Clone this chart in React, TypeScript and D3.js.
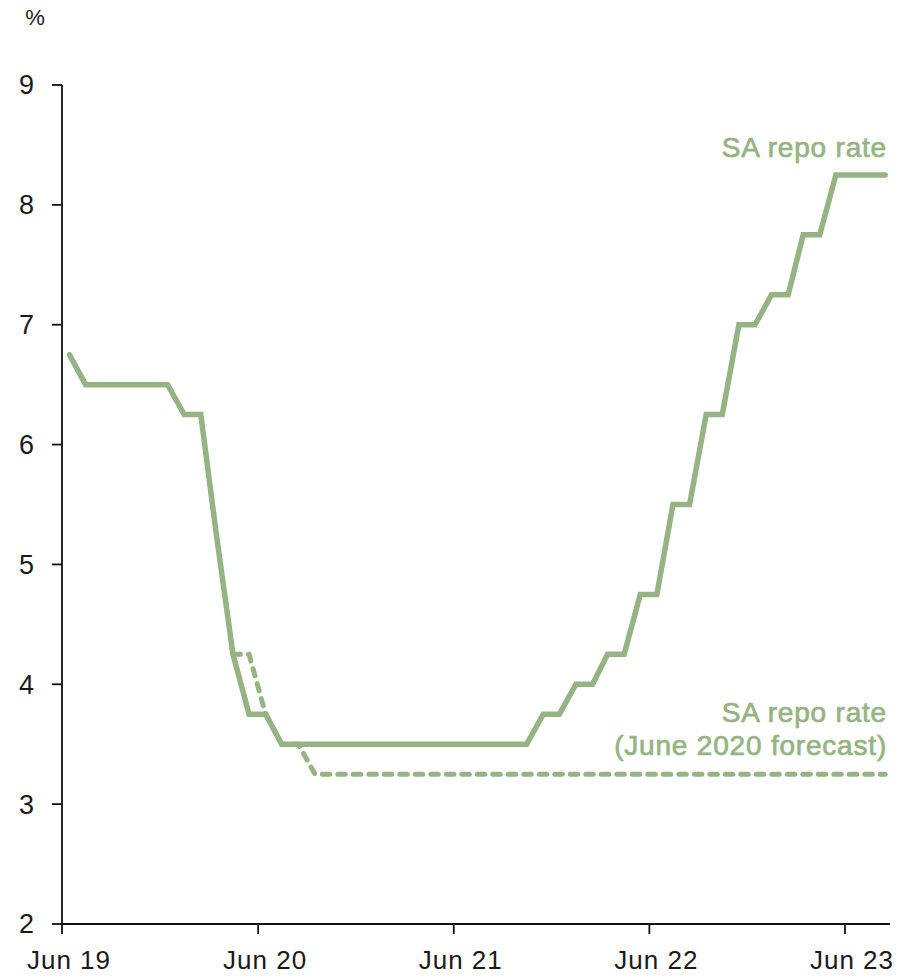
import React from "react";
import * as d3 from "d3";

// Monthly observations, June 2019 – August 2023
const startMonth = "2019-06";
const repoRate = [
  6.75, 6.5, 6.5, 6.5, 6.5, 6.5, 6.5, 6.25, 6.25, 5.25, 4.25, 3.75, 3.75,
  3.5, 3.5, 3.5, 3.5, 3.5, 3.5, 3.5, 3.5, 3.5, 3.5, 3.5, 3.5, 3.5, 3.5, 3.5, 3.5,
  3.75, 3.75, 4.0, 4.0, 4.25, 4.25, 4.75, 4.75, 5.5, 5.5, 6.25, 6.25, 7.0, 7.0,
  7.25, 7.25, 7.75, 7.75, 8.25, 8.25, 8.25, 8.25,
];

// June 2020 forecast path, from April 2020 onwards
const forecastStart = "2020-04";
const forecastRate = [
  4.25, 4.25, 3.75, 3.5, 3.5,
  3.25, 3.25, 3.25, 3.25, 3.25, 3.25, 3.25, 3.25, 3.25, 3.25, 3.25, 3.25,
  3.25, 3.25, 3.25, 3.25, 3.25, 3.25, 3.25, 3.25, 3.25, 3.25, 3.25, 3.25,
  3.25, 3.25, 3.25, 3.25, 3.25, 3.25, 3.25, 3.25, 3.25, 3.25, 3.25, 3.25,
];

const xTickDates = ["2019-06-01", "2020-06-01", "2021-06-01", "2022-06-01", "2023-06-01"];
const xTickLabels = ["Jun 19", "Jun 20", "Jun 21", "Jun 22", "Jun 23"];
const yTicks = [2, 3, 4, 5, 6, 7, 8, 9];

const GREEN = "#95b383";
const INK = "#1a1a1a";
const FONT = "'Liberation Sans', Arial, Helvetica, sans-serif";

const parseMonth = d3.timeParse("%Y-%m");
const parseDay = d3.timeParse("%Y-%m-%d");

function monthly(start: string, values: number[]) {
  const first = parseMonth(start) as Date;
  return values.map((v, i) => ({
    date: d3.timeDay.offset(d3.timeMonth.offset(first, i), 14),
    value: v,
  }));
}

export default function App() {
  const width = 919;
  const height = 978;
  const left = 62;
  const right = 890;
  const top = 85;
  const bottom = 924;

  const x = d3
    .scaleTime()
    .domain([new Date(2019, 5, 1), new Date(2023, 7, 24)])
    .range([left, right]);
  const y = d3.scaleLinear().domain([2, 9]).range([bottom, top]);

  const line = d3
    .line<{ date: Date; value: number }>()
    .x((d) => x(d.date))
    .y((d) => y(d.value));

  const actual = monthly(startMonth, repoRate);
  const forecast = monthly(forecastStart, forecastRate);

  const labelStyle = {
    fontSize: 28,
    letterSpacing: 0.8,
    fill: GREEN,
    stroke: GREEN,
    strokeWidth: 0.7,
  };

  return (
    <svg
      width={width}
      height={height}
      style={{ position: "absolute", left: 0, top: 0, background: "#fff" }}
      fontFamily={FONT}
    >
      <text x={35} y={25} fontSize={22} textAnchor="middle" fill={INK}>%</text>

      {/* y axis */}
      <line x1={left} x2={left} y1={top} y2={bottom} stroke="#111" strokeWidth={1.8} />
      {yTicks.map((t) => (
        <g key={t}>
          <line x1={left - 10} x2={left} y1={y(t)} y2={y(t)} stroke="#111" strokeWidth={1.8} />
          <text x={34} y={y(t)} dy="0.35em" fontSize={27} textAnchor="end" fill={INK}>
            {t}
          </text>
        </g>
      ))}

      {/* x axis */}
      <line x1={left} x2={right} y1={bottom} y2={bottom} stroke="#111" strokeWidth={1.8} />
      {xTickDates.map((d, i) => {
        const px = x(parseDay(d) as Date);
        return (
          <g key={d}>
            <line x1={px} x2={px} y1={bottom} y2={bottom + 10} stroke="#111" strokeWidth={1.8} />
            <text
              x={px + 7}
              y={969}
              fontSize={26}
              textAnchor="middle"
              letterSpacing={1}
              fill={INK}
            >
              {xTickLabels[i]}
            </text>
          </g>
        );
      })}

      {/* series */}
      <path
        d={line(forecast) || ""}
        fill="none"
        stroke={GREEN}
        strokeWidth={5}
        strokeDasharray="7.5 8"
        strokeLinecap="round"
      />
      <path
        d={line(actual) || ""}
        fill="none"
        stroke={GREEN}
        strokeWidth={5.5}
        strokeLinecap="round"
      />

      <text x={887} y={157} textAnchor="end" {...labelStyle}>
        SA repo rate
      </text>
      <text x={887} y={722} textAnchor="end" {...labelStyle}>
        <tspan x={887}>SA repo rate</tspan>
        <tspan x={887} dy={33}>(June 2020 forecast)</tspan>
      </text>
    </svg>
  );
}
